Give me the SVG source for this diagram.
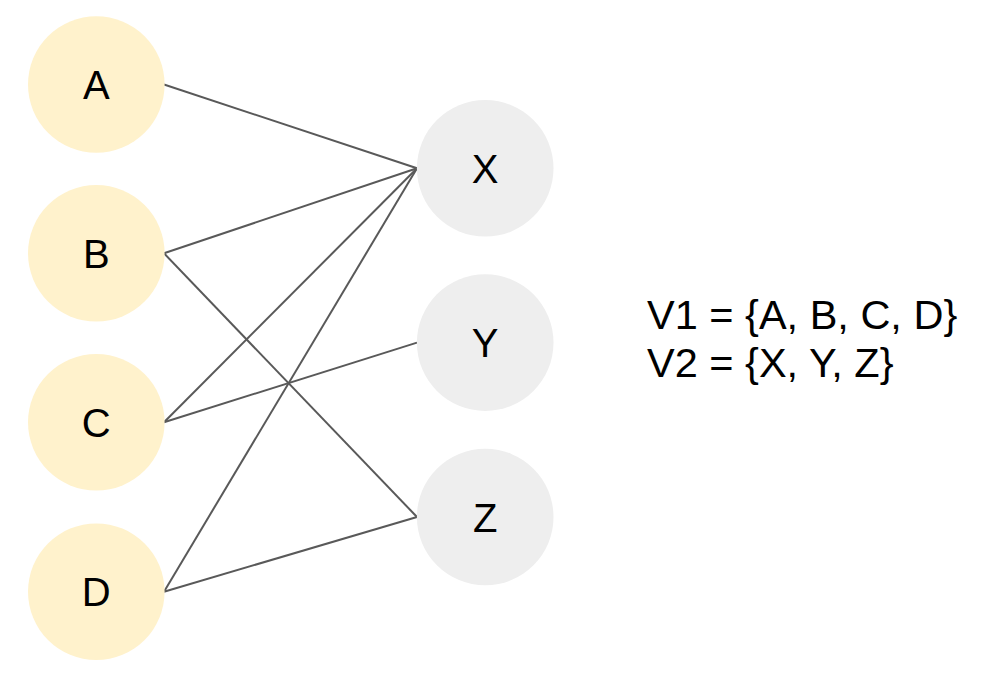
<svg xmlns="http://www.w3.org/2000/svg" width="983" height="684" viewBox="0 0 983 684">
<style>
.l{fill:#fff2cc}
.r{fill:#eeeeee}
.t{font-family:"Liberation Sans",Arial,sans-serif;font-size:40px;fill:#000;text-anchor:middle}
.e{stroke:#595959;stroke-width:2;fill:none}
.v{font-family:"Liberation Sans",Arial,sans-serif;font-size:41.5px;fill:#000}
</style>
<rect width="983" height="684" fill="#fff"/>
<g id="edges">
<line class="e" x1="164" y1="84.5" x2="417" y2="168.3"/>
<line class="e" x1="164" y1="253.3" x2="417" y2="168.3"/>
<line class="e" x1="164" y1="253.3" x2="417" y2="517"/>
<line class="e" x1="164" y1="422.3" x2="417" y2="168.3"/>
<line class="e" x1="164" y1="422.3" x2="417" y2="342.6"/>
<line class="e" x1="164" y1="591.7" x2="417" y2="168.3"/>
<line class="e" x1="164" y1="591.7" x2="417" y2="517"/>
</g>
<g id="A"><circle class="l" cx="96.3" cy="84.5" r="68.3"/><text class="t" x="96.3" y="99">A</text></g>
<g id="B"><circle class="l" cx="96.3" cy="253.3" r="68.3"/><text class="t" x="96.3" y="268">B</text></g>
<g id="C"><circle class="l" cx="96.3" cy="422.3" r="68.3"/><text class="t" x="96.3" y="437">C</text></g>
<g id="D"><circle class="l" cx="96.3" cy="591.7" r="68.3"/><text class="t" x="96.3" y="606">D</text></g>
<g id="X"><circle class="r" cx="485.2" cy="168.3" r="68.3"/><text class="t" x="485.2" y="183">X</text></g>
<g id="Y"><circle class="r" cx="485.2" cy="342.6" r="68.3"/><text class="t" x="485.2" y="357">Y</text></g>
<g id="Z"><circle class="r" cx="485.2" cy="517" r="68.3"/><text class="t" x="485.2" y="531.5">Z</text></g>
<g id="sets">
<text class="v" x="647" y="329">V1 = {A, B, C, D}</text>
<text class="v" x="647" y="377">V2 = {X, Y, Z}</text>
</g>
</svg>
